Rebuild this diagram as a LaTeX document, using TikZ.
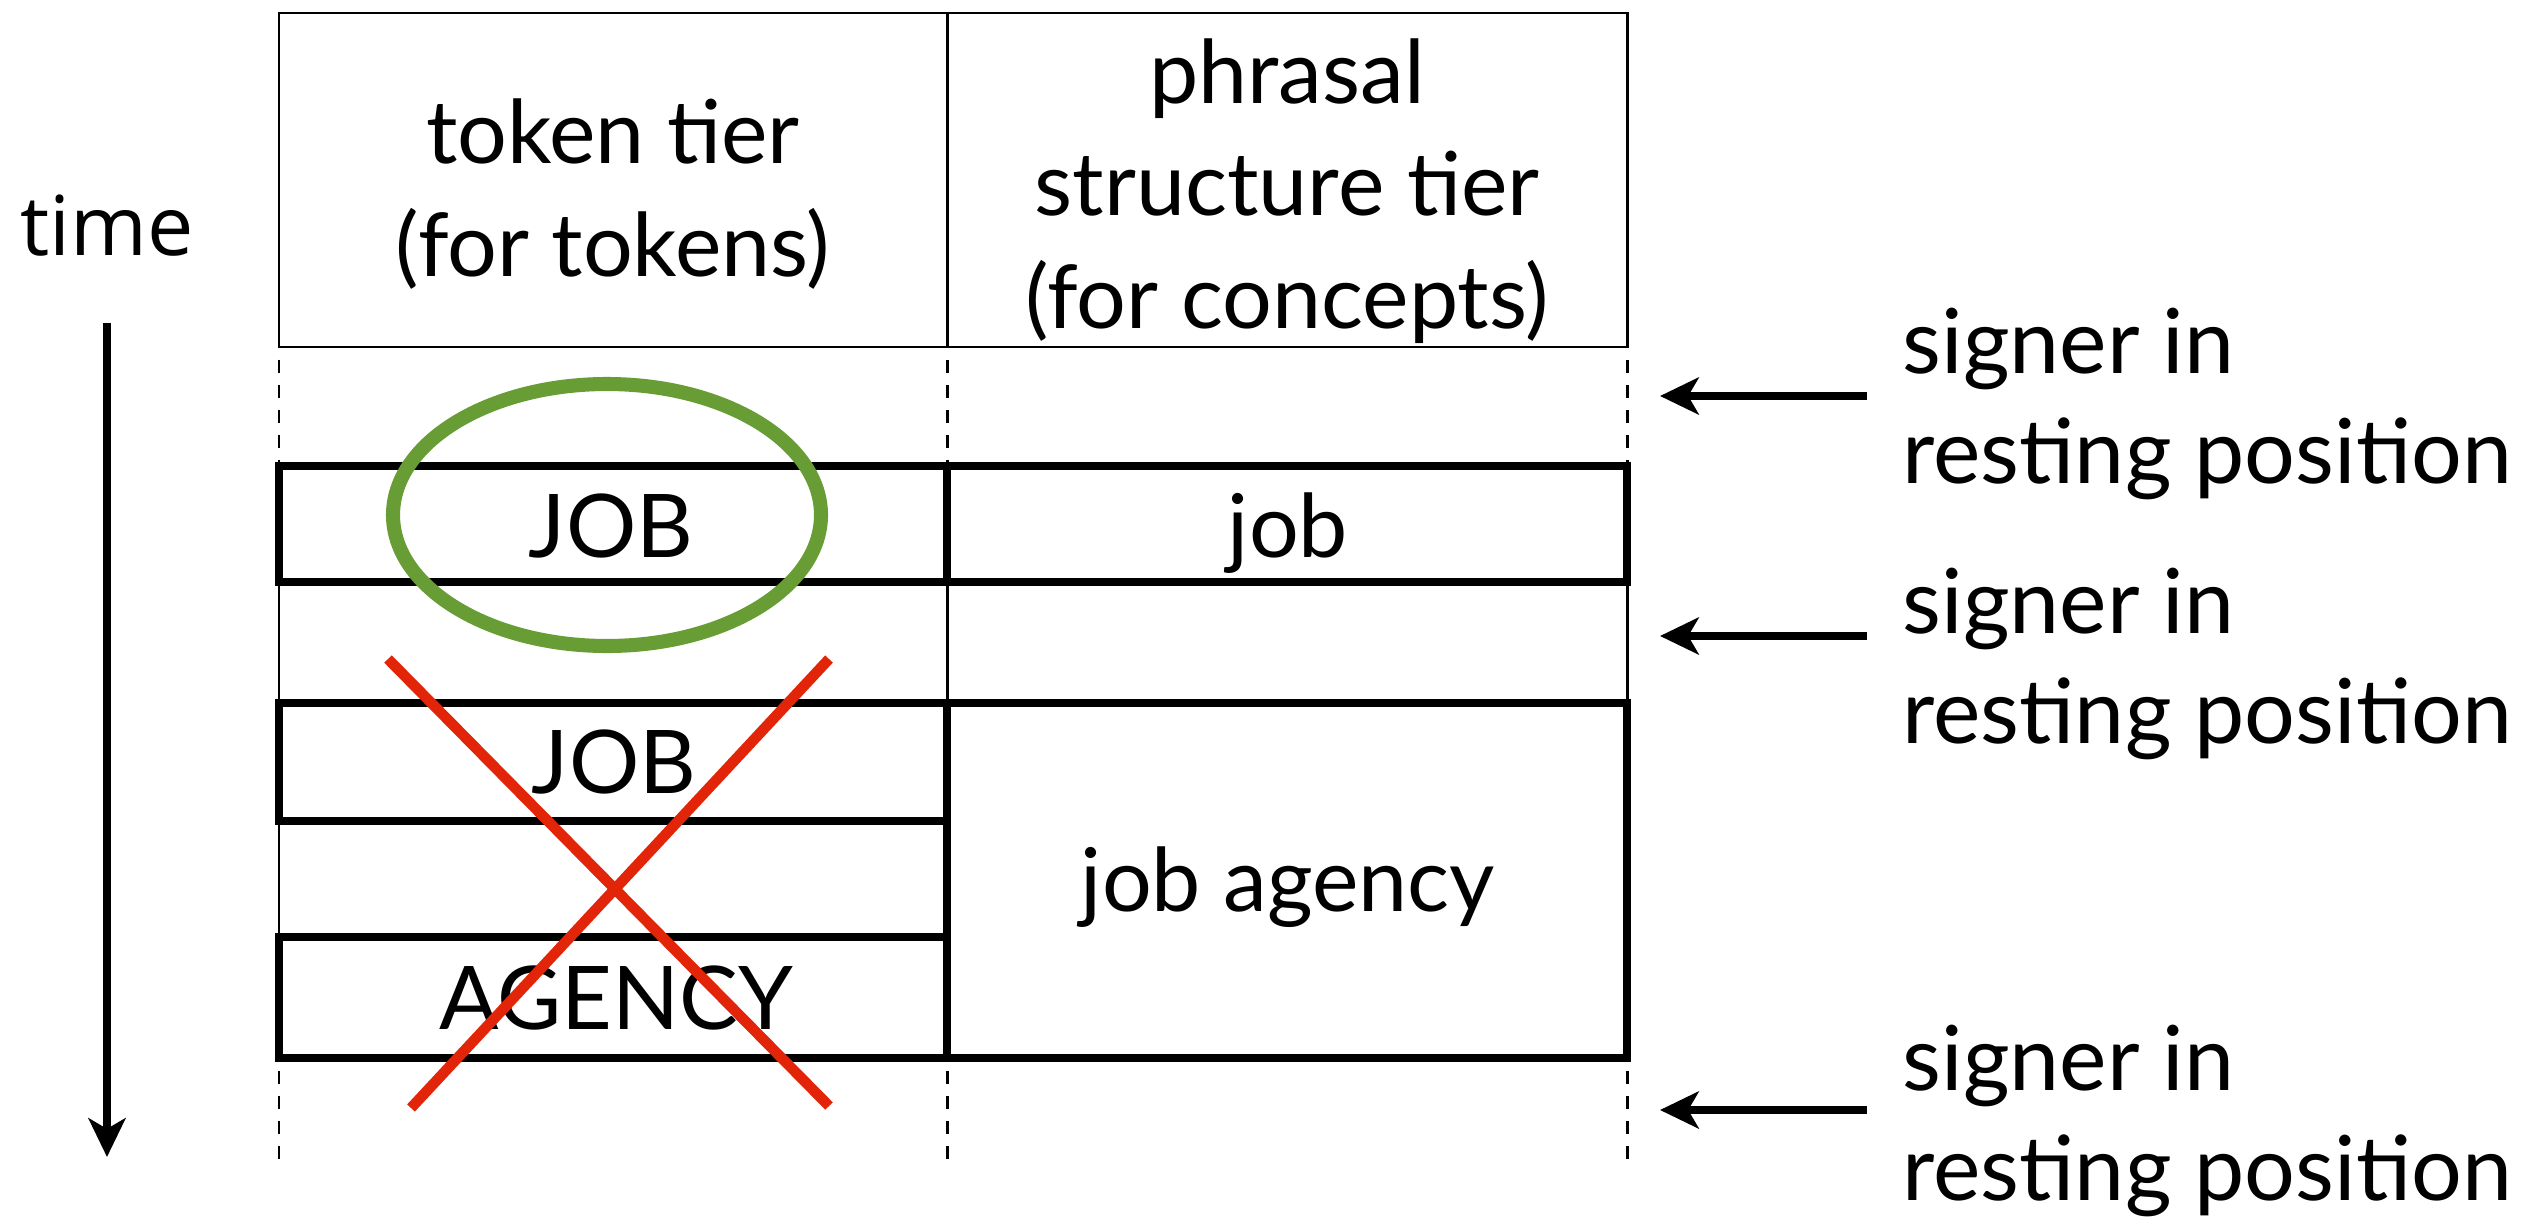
\documentclass[tikz,border=0pt]{standalone}
\usepackage{fontspec}
\setmainfont{Lato}
\newfontfamily\timefont{Open Sans}
\usetikzlibrary{arrows.meta}
\definecolor{ringgreen}{RGB}{104,156,52}
\definecolor{crossred}{RGB}{226,36,8}

\tikzset{
  hairline/.style={line width=0.85pt},
  boxline/.style={line width=2.3pt},
  restline/.style={line width=0.85pt,dash pattern=on 3.7pt off 3.4pt,dash phase=3.5pt},
  tiertext/.style={font=\fontsize{25}{32}\selectfont,inner sep=0pt,align=center},
  sidetext/.style={font=\fontsize{25.5}{31}\selectfont,inner sep=0pt,align=left,anchor=base west},
  pointer/.style={line width=2pt,-{Stealth[length=11pt,width=10.5pt,inset=3pt]}}
}

\begin{document}
\begin{tikzpicture}[x=0.01cm,y=-0.01cm]
 \useasboundingbox (0,0) rectangle (2529,1218);
 % header row
 \draw[hairline] (279,13) rectangle (1627,347);
 \draw[hairline] (947,13) -- (947,347);
 \node[tiertext] (tokenhead) at (613,194) {token tier\\(for tokens)};
 \node[tiertext] (phrasehead) at (1287,191) {phrasal\\structure tier\\(for concepts)};
 % column rules between the boxes
 \foreach \x in {279,947,1627}{
  \draw[restline] (\x,347) -- (\x,466);
  \draw[hairline] (\x,582) -- (\x,703);
  \draw[restline] (\x,1058) -- (\x,1167);
 }
 \draw[hairline] (279,821) -- (279,937);
 % boxes
 \draw[boxline] (279,466) rectangle (947,582);
 \draw[boxline] (947,466) rectangle (1627,582);
 \draw[boxline] (279,703) rectangle (947,821);
 \draw[boxline] (279,937) rectangle (947,1058);
 \draw[boxline] (947,703) rectangle (1627,1058);
 \node[tiertext,anchor=base] (jobtok) at (611,557) {JOB};
 \node[tiertext,anchor=base] (jobcon) at (1288,557) {job};
 \node[tiertext,anchor=base] (jobtokb) at (614,793) {JOB};
 \node[tiertext,anchor=base] (agencytok) at (616,1029) {AGENCY};
 \node[tiertext,anchor=base] (jobagency) at (1288,911) {job agency};
 % ring and cross
 \draw[ringgreen,line width=4pt] (607,515) ellipse [x radius=214,y radius=131];
 \draw[crossred,line width=3pt] (388,659) -- (829,1106);
 \draw[crossred,line width=3pt] (829,659) -- (411,1108);
 % time axis
 \node[font=\timefont\fontsize{23.5}{28}\selectfont,inner sep=0pt,anchor=base] (timelabel) at (107,255) {time};
 \coordinate (tstart) at (107,323);
 \coordinate (tend) at (107,1157);
 \draw[line width=2.2pt,-{Stealth[length=11pt,width=10.5pt,inset=3pt]}] (tstart) -- (tend);
 % resting position markers
 \node[sidetext] (rest1) at (1902,483) {signer in\\resting position};
 \node[sidetext] (rest2) at (1902,743) {signer in\\resting position};
 \node[sidetext] (rest3) at (1902,1200) {signer in\\resting position};
 \foreach \y [count=\i] in {396,636,1110}{
  \coordinate (tail\i) at (1867,\y);
  \coordinate (tip\i) at (1660,\y);
  \draw[pointer] (tail\i) -- (tip\i);
 }
\end{tikzpicture}
\end{document}
